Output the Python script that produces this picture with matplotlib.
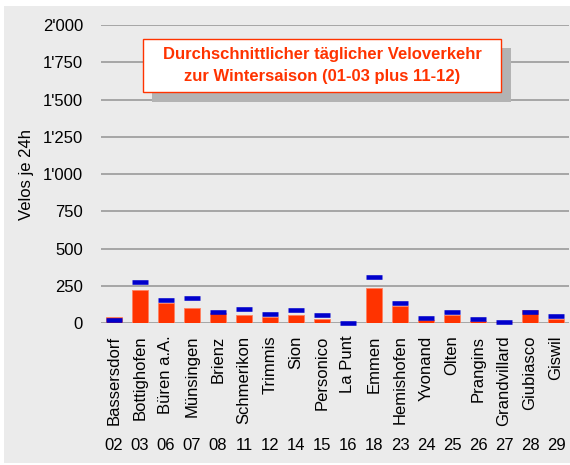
import numpy as np
import matplotlib
matplotlib.use('Agg')
import matplotlib.pyplot as plt
from matplotlib.patches import Rectangle
from matplotlib.ticker import FuncFormatter

plt.rcParams['font.family'] = ['Liberation Sans', 'DejaVu Sans']

# Zählstellen und Werte (Velos je 24h)
stations = ['Bassersdorf', 'Bottighofen', 'Büren a.A.', 'Münsingen', 'Brienz',
            'Schmerikon', 'Trimmis', 'Sion', 'Personico', 'La Punt', 'Emmen',
            'Hemishofen', 'Yvonand', 'Olten', 'Prangins', 'Grandvillard',
            'Giubiasco', 'Giswil']
codes = ['02', '03', '06', '07', '08', '11', '12', '14', '15', '16', '18',
         '23', '24', '25', '26', '27', '28', '29']
winter = [40, 224, 132, 100, 65, 55, 40, 55, 30, 3, 237, 116, 22, 57, 13, 7, 85, 30]
marker = [17, 276, 155, 171, 71, 94, 63, 86, 55, 2, 307, 132, 33, 72, 24, 8, 76, 47]
yticks = [0, 250, 500, 750, 1000, 1250, 1500, 1750, 2000]

W, H = 570, 465
fig = plt.figure(figsize=(W / 100, H / 100), dpi=100, facecolor='white')

def px(x0, y0, x1, y1):
    # pixel box -> figure fraction (x, y, w, h)
    return (x0 / W, 1 - y1 / H, (x1 - x0) / W, (y1 - y0) / H)

# grey background panel
x, y, w, h = px(4, 6, 570, 463)
fig.patches.append(Rectangle((x, y), w, h, transform=fig.transFigure,
                             facecolor='#ebebeb', edgecolor='none', zorder=-5))

ax = fig.add_axes(px(101, 25, 569, 323))
ax.set_zorder(1)
ax.set_facecolor('none')

pos = np.arange(len(stations))
ax.bar(pos, winter, width=0.65, color='#ff3300', edgecolor='#ff8060',
       linewidth=0.6, zorder=2)
ax.hlines(marker, pos - 0.29, pos + 0.29, color='#0000cc', linewidth=3.3,
          zorder=3, clip_on=False)

ax.set_xlim(-0.5, len(stations) - 0.5)
ax.set_ylim(0, 2000)
ax.set_yticks(yticks)
ax.yaxis.set_major_formatter(FuncFormatter(lambda v, p: f"{v:,.0f}".replace(',', "'")))
ax.yaxis.grid(True, color='#a0a0a0', linewidth=1.3)
ax.set_axisbelow(True)
for s in ax.spines.values():
    s.set_visible(False)
ax.tick_params(axis='both', length=0, labelsize=12)
ax.tick_params(axis='y', pad=13)
ax.tick_params(axis='x', pad=9)

ax.set_xticks(pos)
ax.set_xticklabels(stations, rotation=90, va='top', ha='center')
for i, c in zip(pos, codes):
    ax.text(i, -0.41, c, transform=ax.get_xaxis_transform(), ha='center',
            va='center', fontsize=12)

ax.set_ylabel('Velos je 24h', fontsize=12, labelpad=6)

# title box with shadow
x, y, w, h = px(152, 48, 511, 102)
fig.patches.append(Rectangle((x, y), w, h, transform=fig.transFigure,
                             facecolor='#b3b3b3', edgecolor='none', zorder=5))
x, y, w, h = px(143, 39, 501, 92)
fig.patches.append(Rectangle((x, y), w, h, transform=fig.transFigure,
                             facecolor='white', edgecolor='#ff3300',
                             linewidth=1.0, zorder=6))
fig.text(322 / W, 1 - 55 / H, 'Durchschnittlicher täglicher Veloverkehr',
         ha='center', va='center', color='#ff3300', fontsize=12,
         fontweight='bold', zorder=7)
fig.text(322 / W, 1 - 76 / H, 'zur Wintersaison (01-03 plus 11-12)',
         ha='center', va='center', color='#ff3300', fontsize=12,
         fontweight='bold', zorder=7)

fig.savefig('out.png', dpi=100, facecolor='white')
